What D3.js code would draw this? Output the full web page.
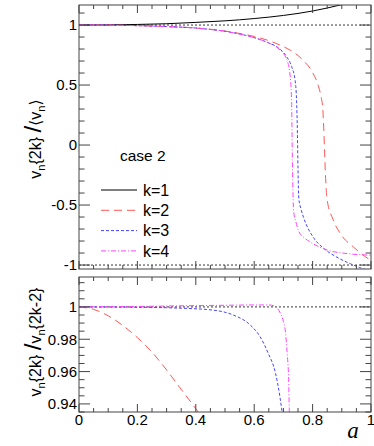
<!DOCTYPE html>
<html>
<head>
<meta charset="utf-8">
<script src="https://cdn.jsdelivr.net/npm/d3@7"></script>
<style>
  body { margin: 0; background: #fff; }
  svg { display: block; font-family: "Liberation Sans", Arial, "DejaVu Sans", sans-serif; }
</style>
</head>
<body>
<svg id="chart"></svg>
<script>
// top panel: v_n{2k}/<v_n>
const aK1 = [0, 0.1, 0.2, 0.3, 0.4, 0.5, 0.6, 0.7, 0.8, 0.9];
const yK1 = [1, 1.001, 1.005, 1.011, 1.022, 1.035, 1.054, 1.08, 1.117, 1.17];
const aK2 = [0, 0.1, 0.2, 0.3, 0.4, 0.45, 0.5, 0.55, 0.6, 0.65, 0.7, 0.74, 0.77, 0.8, 0.82, 0.83, 0.835, 0.838, 0.841, 0.845, 0.85, 0.87, 0.9, 0.94, 0.98, 1.0];
const yK2 = [1, 0.999, 0.995, 0.987, 0.975, 0.965, 0.95, 0.93, 0.905, 0.87, 0.82, 0.765, 0.70, 0.605, 0.49, 0.39, 0.3, 0.15, -0.05, -0.3, -0.46, -0.62, -0.755, -0.85, -0.93, -0.96];
const aK3 = [0, 0.1, 0.2, 0.3, 0.4, 0.45, 0.5, 0.55, 0.6, 0.65, 0.68, 0.71, 0.728, 0.74, 0.745, 0.748, 0.75, 0.753, 0.76, 0.77, 0.8, 0.84, 0.88, 0.93, 0.96, 1.0];
const yK3 = [1, 0.999, 0.995, 0.987, 0.975, 0.963, 0.948, 0.925, 0.895, 0.85, 0.815, 0.74, 0.655, 0.54, 0.375, 0.1, -0.2, -0.45, -0.53, -0.61, -0.76, -0.865, -0.93, -0.99, -1.02, -1.05];
const aK4 = [0, 0.1, 0.2, 0.3, 0.4, 0.45, 0.5, 0.55, 0.6, 0.65, 0.68, 0.71, 0.722, 0.728, 0.73, 0.732, 0.735, 0.745, 0.751, 0.77, 0.79, 0.85, 0.92, 1.0];
const yK4 = [1, 0.999, 0.995, 0.987, 0.975, 0.963, 0.948, 0.925, 0.895, 0.85, 0.81, 0.72, 0.6, 0.375, 0.0, -0.3, -0.55, -0.66, -0.71, -0.77, -0.805, -0.875, -0.905, -0.918];

// bottom panel: v_n{2k}/v_n{2k-2}
const aR2 = [0, 0.05, 0.1, 0.15, 0.2, 0.25, 0.3, 0.35, 0.4, 0.42];
const yR2 = [1, 0.9985, 0.9945, 0.9885, 0.981, 0.972, 0.961, 0.949, 0.937, 0.932];
const aR3 = [0, 0.2, 0.3, 0.35, 0.46, 0.528, 0.586, 0.62, 0.648, 0.673, 0.688, 0.694, 0.7];
const yR3 = [1, 0.9998, 0.9995, 0.9992, 0.998, 0.995, 0.9889, 0.9816, 0.9713, 0.959, 0.9445, 0.937, 0.93];
const aR4 = [0, 0.2, 0.4, 0.5, 0.6, 0.65, 0.67, 0.68, 0.69, 0.7, 0.706, 0.713, 0.718, 0.72, 0.722];
const yR4 = [1, 1.0003, 1.0008, 1.001, 1.0012, 1.0012, 1.0005, 0.999, 0.996, 0.991, 0.986, 0.971, 0.955, 0.937, 0.93];

const legendLabels = ["k=1", "k=2", "k=3", "k=4"];
const topTicks = [-1, -0.5, 0, 0.5, 1];
const topTickLabels = ["-1", "-0.5", "0", "0.5", "1"];
const botTicks = [0.94, 0.96, 0.98, 1];
const botTickLabels = ["0.94", "0.96", "0.98", "1"];
const xTicks = [0, 0.2, 0.4, 0.6, 0.8, 1];
const xTickLabels = ["0", "0.2", "0.4", "0.6", "0.8", "1"];

let width = 374, height = 446;
let svg = d3.select("#chart").attr("width", width).attr("height", height);

let styles = [
  { color: "#000", dash: null },
  { color: "#ff5555", dash: "8,5" },
  { color: "#4444ff", dash: "3,2" },
  { color: "#ff44ff", dash: "5,2,1,2" }
];

let x = d3.scaleLinear().domain([0, 1]).range([79, 371]);
let yTop = d3.scaleLinear().domain([-1.033, 1.167]).range([269, 5]);
let yBot = d3.scaleLinear().domain([0.935, 1.0185]).range([412, 277]);

let defs = svg.append("defs");
defs.append("clipPath").attr("id", "clipTop").append("rect")
  .attr("x", x(0)).attr("y", yTop(1.167)).attr("width", x(1) - x(0)).attr("height", yTop(-1.033) - yTop(1.167));
defs.append("clipPath").attr("id", "clipBot").append("rect")
  .attr("x", x(0)).attr("y", yBot(1.0185)).attr("width", x(1) - x(0)).attr("height", yBot(0.935) - yBot(1.0185));

function drawPanel(y, yDom, clipId, series, majors, majorLabels, minorStep, xLabels) {
  let g = svg.append("g");
  let x0 = x(0), x1 = x(1), y0 = y(yDom[0]), y1 = y(yDom[1]);

  // dotted reference lines
  let refs = clipId == "clipTop" ? [1, -1] : [1];
  refs.forEach((r) => {
    g.append("line").attr("x1", x0).attr("x2", x1).attr("y1", y(r)).attr("y2", y(r))
      .attr("stroke", "#000").attr("stroke-width", 0.8).attr("stroke-dasharray", "2,2");
  });

  let line = d3.line().x((d) => x(d[0])).y((d) => y(d[1])).curve(d3.curveMonotoneX);
  let lines = g.append("g").attr("clip-path", "url(#" + clipId + ")");
  series.forEach((s) => {
    if (!s.a) return;
    lines.append("path")
      .datum(d3.zip(s.a, s.v))
      .attr("fill", "none")
      .attr("stroke", styles[s.k].color)
      .attr("stroke-width", 1)
      .attr("stroke-dasharray", styles[s.k].dash)
      .attr("d", line);
  });

  // frame
  g.append("rect").attr("x", x0).attr("y", y1).attr("width", x1 - x0).attr("height", y0 - y1)
    .attr("fill", "none").attr("stroke", "#444").attr("stroke-width", 1);

  // y ticks, left and right
  let minors = d3.range(Math.ceil(yDom[0] / minorStep), Math.floor(yDom[1] / minorStep) + 1).map((i) => i * minorStep);
  let ticks = g.append("g").attr("stroke", "#444").attr("stroke-width", 1);
  minors.forEach((t) => {
    let major = majors.some((m) => Math.abs(m - t) < minorStep / 10);
    let len = major ? 11 : 5.5;
    ticks.append("line").attr("x1", x0).attr("x2", x0 + len).attr("y1", y(t)).attr("y2", y(t));
    ticks.append("line").attr("x1", x1).attr("x2", x1 - len).attr("y1", y(t)).attr("y2", y(t));
  });
  majors.forEach((t, i) => {
    g.append("text").attr("x", x0 - 2).attr("y", y(t)).attr("dy", "0.36em")
      .attr("text-anchor", "end").attr("font-size", 15).text(majorLabels[i]);
  });

  // x ticks, bottom and top
  d3.range(0, 21).forEach((i) => {
    let t = i * 0.05;
    let len = i % 4 == 0 ? 8 : 4;
    ticks.append("line").attr("x1", x(t)).attr("x2", x(t)).attr("y1", y0).attr("y2", y0 - len);
    ticks.append("line").attr("x1", x(t)).attr("x2", x(t)).attr("y1", y1).attr("y2", y1 + len);
  });
  if (xLabels) {
    xTicks.forEach((t, i) => {
      g.append("text").attr("x", x(t)).attr("y", 425)
        .attr("text-anchor", "middle").attr("font-size", 15).text(xTickLabels[i]);
    });
  }
}

drawPanel(yTop, [-1.033, 1.167], "clipTop", [
  { k: 0, a: aK1, v: yK1 },
  { k: 1, a: aK2, v: yK2 },
  { k: 2, a: aK3, v: yK3 },
  { k: 3, a: aK4, v: yK4 }
], topTicks, topTickLabels, 0.1, false);

drawPanel(yBot, [0.935, 1.0185], "clipBot", [
  { k: 1, a: aR2, v: yR2 },
  { k: 2, a: aR3, v: yR3 },
  { k: 3, a: aR4, v: yR4 }
], botTicks, botTickLabels, 0.005, true);

// legend
svg.append("text").attr("x", 120).attr("y", 161).attr("font-size", 15.5).text("case 2");
let leg = svg.append("g");
legendLabels.forEach((lab, i) => {
  let ly = 190 + i * 20.3;
  leg.append("line").attr("x1", 101).attr("x2", 137).attr("y1", ly).attr("y2", ly)
    .attr("stroke", styles[i].color).attr("stroke-width", 1).attr("stroke-dasharray", styles[i].dash);
  leg.append("text").attr("x", 143).attr("y", ly).attr("dy", "0.36em").attr("font-size", 16).text(lab);
});

// axis titles
function yTitle(cx, cy, denom) {
  let t = svg.append("text").attr("transform", "translate(" + cx + "," + cy + ") rotate(-90)")
    .attr("text-anchor", "middle").attr("font-size", 16);
  t.append("tspan").text("v");
  t.append("tspan").attr("font-size", 11).attr("dy", 4).text("n");
  t.append("tspan").attr("dy", -4).text("{2k} ");
  t.append("tspan").attr("font-size", 24).attr("dy", 0).text("/");
  denom(t);
}
yTitle(41, 139, (t) => {
  t.append("tspan").text("\u27e8v");
  t.append("tspan").attr("font-size", 11).attr("dy", 4).text("n");
  t.append("tspan").attr("dy", -4).text("\u27e9");
});
yTitle(41, 342, (t) => {
  t.append("tspan").text("v");
  t.append("tspan").attr("font-size", 11).attr("dy", 4).text("n");
  t.append("tspan").attr("dy", -4).text("{2k-2}");
});

svg.append("text").attr("x", 353).attr("y", 438).attr("text-anchor", "middle")
  .attr("font-family", "'Liberation Serif', 'Times New Roman', serif").attr("font-style", "italic")
  .attr("font-size", 23).text("a");
</script>
</body>
</html>
